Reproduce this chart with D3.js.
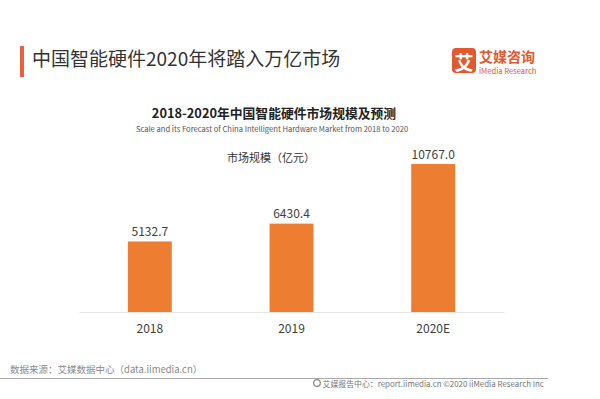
<!DOCTYPE html>
<html><head><meta charset="utf-8">
<script src="https://cdn.jsdelivr.net/npm/d3@7"></script>
<style>
html,body{margin:0;padding:0;background:#fff;}
text{font-family:"Noto Sans CJK SC","Noto Sans",sans-serif;}
</style></head>
<body>
<svg id="c" width="600" height="399"></svg>
<script>
const categories = ["2018", "2019", "2020E"];
const values = [5132.7, 6430.4, 10767.0];
const valueLabels = ["5132.7", "6430.4", "10767.0"];

const svg = d3.select("#c");
const W = 600, H = 399;
svg.append("rect").attr("width", W).attr("height", H).attr("fill", "#fff");

// header
svg.append("rect").attr("x", 20).attr("y", 46).attr("width", 4).attr("height", 31).attr("fill", "#E8603C");
svg.append("text").attr("x", 32).attr("y", 57).attr("dominant-baseline", "central")
  .attr("font-size", 19).attr("fill", "#333").text("中国智能硬件2020年将踏入万亿市场");

// logo
svg.append("rect").attr("x", 452).attr("y", 48).attr("width", 24).attr("height", 25).attr("rx", 4).attr("fill", "#E2582F");
svg.append("text").attr("x", 464).attr("y", 61).attr("text-anchor", "middle").attr("dominant-baseline", "central")
  .attr("font-size", 19).attr("font-weight", "bold").attr("fill", "#fff").text("艾");
svg.append("text").attr("x", 479).attr("y", 55.5).attr("dominant-baseline", "central")
  .attr("font-size", 14).attr("font-weight", "bold").attr("fill", "#E2582F").text("艾媒咨询");
svg.append("text").attr("x", 479).attr("y", 70.5).attr("dominant-baseline", "central")
  .attr("font-size", 7.6).attr("fill", "#E2582F").attr("font-family", "Lato, sans-serif").text("iMedia Research");

// chart titles
svg.append("text").attr("x", 274).attr("y", 112).attr("text-anchor", "middle").attr("dominant-baseline", "central")
  .attr("font-size", 12.8).attr("font-weight", "bold").attr("fill", "#222").text("2018-2020年中国智能硬件市场规模及预测");
svg.append("text").attr("x", 272).attr("y", 128.5).attr("text-anchor", "middle").attr("dominant-baseline", "central")
  .attr("font-size", 7.6).attr("fill", "#555").text("Scale and its Forecast of China Intelligent Hardware Market from 2018 to 2020");
svg.append("text").attr("x", 271).attr("y", 157).attr("text-anchor", "middle").attr("dominant-baseline", "central")
  .attr("font-size", 11).attr("fill", "#333").text("市场规模（亿元）");

// scales
const x = d3.scaleBand().domain(categories).range([79, 504]).paddingInner(0.69).paddingOuter(0.345);
const y = d3.scaleLinear().domain([0, 10767]).range([312, 164]);

svg.append("g").selectAll("rect").data(values).join("rect")
  .attr("x", (d, i) => x(categories[i])).attr("width", x.bandwidth())
  .attr("y", d => y(d)).attr("height", d => y(0) - y(d)).attr("fill", "#ED7D31");

svg.append("g").selectAll("text").data(values).join("text")
  .attr("x", (d, i) => x(categories[i]) + x.bandwidth() / 2)
  .attr("y", d => y(d) - 11).attr("text-anchor", "middle").attr("dominant-baseline", "central")
  .attr("font-size", 12).attr("fill", "#404040").text((d, i) => valueLabels[i]);

// axis
const ax = svg.append("g").attr("transform", "translate(0,312)").call(d3.axisBottom(x).tickSize(0).tickPadding(12));
ax.select(".domain").attr("stroke", "#e6e6e6").attr("stroke-width", 1);
ax.selectAll("text").attr("font-size", 12).attr("fill", "#404040")
  .attr("font-family", "'Noto Sans CJK SC','Noto Sans',sans-serif");

// footer
svg.append("text").attr("x", 10).attr("y", 369).attr("dominant-baseline", "central")
  .attr("font-size", 9.5).attr("fill", "#8a8a8a").text("数据来源：艾媒数据中心（data.iimedia.cn）");
svg.append("line").attr("x1", 0).attr("x2", 548).attr("y1", 378.5).attr("y2", 378.5)
  .attr("stroke", "#aaa").attr("stroke-width", 1.2);
svg.append("circle").attr("cx", 317).attr("cy", 383).attr("r", 3.3).attr("fill", "none").attr("stroke", "#888").attr("stroke-width", 1.2);
svg.append("text").attr("x", 322.5).attr("y", 383).attr("dominant-baseline", "central")
  .attr("font-size", 7.9).attr("fill", "#777").text("艾媒报告中心：report.iimedia.cn  ©2020  iiMedia Research  Inc");
</script>
</body></html>
